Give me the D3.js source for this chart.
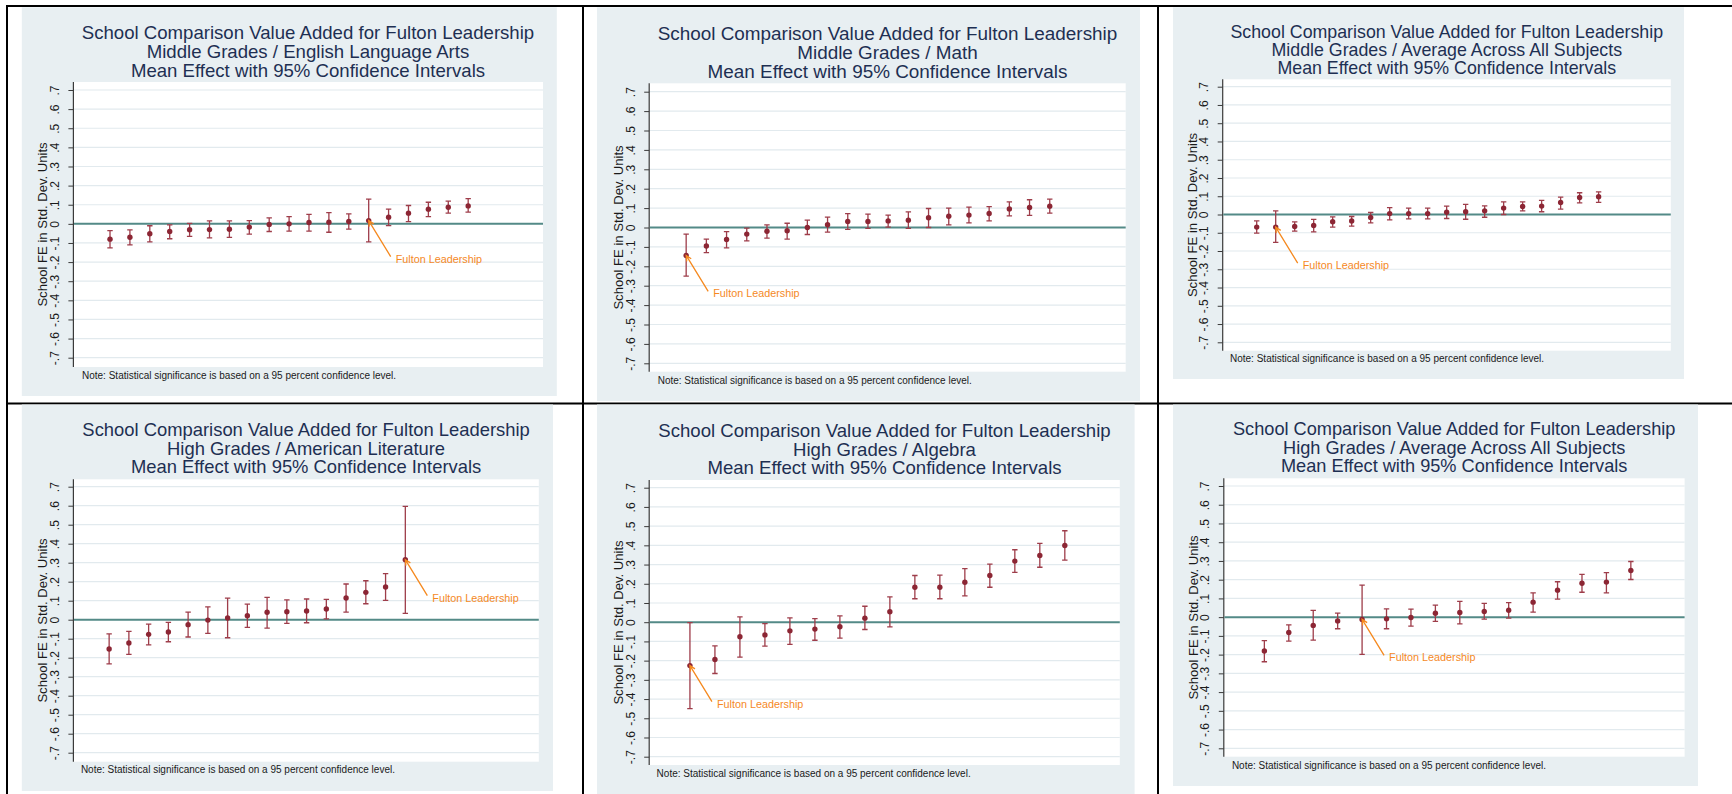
<!DOCTYPE html>
<html>
<head>
<meta charset="utf-8">
<script src="https://cdn.jsdelivr.net/npm/d3@7"></script>
<style>
html,body{margin:0;padding:0;background:#fff;}
svg{display:block;font-family:"Liberation Sans",Arial,sans-serif;}
</style>
</head>
<body>
<svg id="chart" width="1732" height="794"></svg>
<script>
// ---------------- DATA ----------------
const titleLine1 = "School Comparison Value Added for Fulton Leadership";
const titleLine3 = "Mean Effect with 95% Confidence Intervals";
const subtitles = [
  "Middle Grades / English Language Arts",
  "Middle Grades / Math",
  "Middle Grades / Average Across All Subjects",
  "High Grades / American Literature",
  "High Grades / Algebra",
  "High Grades / Average Across All Subjects"
];
const yLabel = "School FE in Std. Dev. Units";
const noteText = "Note: Statistical significance is based on a 95 percent confidence level.";
const highlightLabel = "Fulton Leadership";
const tickValues = [0.7,0.6,0.5,0.4,0.3,0.2,0.1,0,-0.1,-0.2,-0.3,-0.4,-0.5,-0.6,-0.7];
const tickLabels = [".7",".6",".5",".4",".3",".2",".1","0","-.1","-.2","-.3","-.4","-.5","-.6","-.7"];

// Middle Grades / ELA
const midElaEst = [-0.080,-0.070,-0.052,-0.040,-0.031,-0.030,-0.028,-0.017,-0.003,0.000,0.007,0.009,0.012,0.017,0.035,0.056,0.077,0.087,0.094];
const midElaLo  = [-0.126,-0.110,-0.094,-0.078,-0.065,-0.073,-0.071,-0.054,-0.040,-0.038,-0.038,-0.044,-0.028,-0.094,-0.009,0.012,0.038,0.056,0.061];
const midElaHi  = [-0.035,-0.031,-0.010,-0.005,0.003,0.016,0.016,0.017,0.031,0.038,0.050,0.059,0.052,0.129,0.077,0.096,0.113,0.119,0.132];
const midElaFulton = 13;

// Middle Grades / Math
const midMathEst = [-0.144,-0.095,-0.062,-0.034,-0.019,-0.017,0.000,0.014,0.031,0.031,0.034,0.038,0.050,0.058,0.064,0.072,0.096,0.103,0.110];
const midMathLo  = [-0.251,-0.129,-0.105,-0.069,-0.055,-0.060,-0.036,-0.024,-0.010,-0.005,0.002,-0.005,0.000,0.014,0.024,0.034,0.060,0.062,0.074];
const midMathHi  = [-0.034,-0.060,-0.021,-0.003,0.014,0.022,0.038,0.053,0.072,0.069,0.064,0.081,0.098,0.100,0.105,0.108,0.132,0.143,0.146];
const midMathFulton = 0;

// Middle Grades / Average
const midAvgEst = [-0.069,-0.069,-0.066,-0.060,-0.040,-0.036,-0.016,0.005,0.005,0.005,0.013,0.015,0.020,0.035,0.044,0.046,0.066,0.093,0.097];
const midAvgLo  = [-0.102,-0.153,-0.091,-0.095,-0.069,-0.064,-0.046,-0.029,-0.024,-0.024,-0.022,-0.026,-0.015,0.000,0.020,0.015,0.029,0.064,0.066];
const midAvgHi  = [-0.035,0.020,-0.040,-0.027,-0.013,-0.011,0.011,0.038,0.035,0.035,0.046,0.055,0.047,0.069,0.069,0.077,0.095,0.119,0.124];
const midAvgFulton = 1;

// High Grades / American Literature
const hiLitEst = [-0.154,-0.123,-0.077,-0.065,-0.026,-0.002,0.009,0.021,0.039,0.042,0.046,0.056,0.114,0.144,0.172,0.316];
const hiLitLo  = [-0.233,-0.182,-0.132,-0.116,-0.091,-0.072,-0.095,-0.040,-0.044,-0.019,-0.016,0.004,0.040,0.084,0.102,0.033];
const hiLitHi  = [-0.075,-0.061,-0.023,-0.014,0.040,0.068,0.114,0.082,0.118,0.104,0.109,0.107,0.188,0.205,0.242,0.596];
const hiLitFulton = 15;

// High Grades / Algebra
const hiAlgEst = [-0.226,-0.194,-0.076,-0.066,-0.045,-0.036,-0.024,0.021,0.054,0.182,0.182,0.208,0.243,0.318,0.347,0.399];
const hiAlgLo  = [-0.450,-0.267,-0.182,-0.125,-0.115,-0.094,-0.083,-0.038,-0.024,0.122,0.122,0.137,0.182,0.259,0.286,0.323];
const hiAlgHi  = [-0.002,-0.123,0.028,-0.007,0.023,0.019,0.033,0.083,0.132,0.243,0.245,0.279,0.302,0.377,0.410,0.476];
const hiAlgFulton = 0;

// High Grades / Average
const hiAvgEst = [-0.181,-0.082,-0.044,-0.020,-0.012,-0.009,-0.002,0.021,0.025,0.030,0.037,0.080,0.144,0.181,0.187,0.249];
const hiAvgLo  = [-0.238,-0.128,-0.123,-0.062,-0.199,-0.062,-0.048,-0.023,-0.036,-0.011,-0.005,0.027,0.096,0.133,0.130,0.201];
const hiAvgHi  = [-0.125,-0.041,0.036,0.021,0.171,0.044,0.043,0.064,0.084,0.073,0.078,0.130,0.189,0.228,0.238,0.297];
const hiAvgFulton = 4;

// ---------------- LAYOUT ----------------
const panels = [
  {est:midElaEst, lo:midElaLo, hi:midElaHi, f:midElaFulton, sub:subtitles[0],
   bg:[21.8,7.3,556.8,396], px:[73.4,543], py:[82,367], ty:[90,357.7], xdom:[-0.84,22.76],
   tcx:308, tl:[32.3,51.7,70], tfs:18.6, note:[82,375]},
  {est:midMathEst, lo:midMathLo, hi:midMathHi, f:midMathFulton, sub:subtitles[1],
   bg:[597,7.3,1140,401], px:[649.2,1125.7], py:[83.3,371.7], ty:[91.7,363.3], xdom:[-0.83,22.76],
   tcx:887.5, tl:[33.3,52.3,71], tfs:18.9, note:[657.7,380]},
  {est:midAvgEst, lo:midAvgLo, hi:midAvgHi, f:midAvgFulton, sub:subtitles[2],
   bg:[1173,7.3,1684,379], px:[1222.7,1670.8], py:[79.3,350.7], ty:[86.7,342.3], xdom:[-0.79,22.8],
   tcx:1446.8, tl:[31.7,49.7,67.7], tfs:17.8, note:[1230,358.7]},
  {est:hiLitEst, lo:hiLitLo, hi:hiLitHi, f:hiLitFulton, sub:subtitles[3],
   bg:[21.8,404.5,553,791], px:[73.4,538.8], py:[479.3,761.7], ty:[486.7,752.7], xdom:[-0.81,22.76],
   tcx:306.1, tl:[429.3,448.3,466.7], tfs:18.4, note:[80.9,769.3]},
  {est:hiAlgEst, lo:hiAlgLo, hi:hiAlgHi, f:hiAlgFulton, sub:subtitles[4],
   bg:[597,404.5,1134.6,794], px:[649.2,1119.8], py:[480,765], ty:[487.7,756.7], xdom:[-0.63,18.2],
   tcx:884.5, tl:[430,449,467.7], tfs:18.6, note:[656.6,773.3]},
  {est:hiAvgEst, lo:hiAvgLo, hi:hiAvgHi, f:hiAvgFulton, sub:subtitles[5],
   bg:[1173,404.5,1698,786], px:[1223.8,1684.6], py:[478.3,756.7], ty:[486,748.3], xdom:[-0.66,18.2],
   tcx:1454.2, tl:[429,447.7,466], tfs:18.2, note:[1231.9,765]}
];

const svg = d3.select("#chart");

// table grid lines
const border = svg.append("g").attr("stroke","#000").attr("stroke-width",2);
border.append("line").attr("x1",6).attr("x2",1732).attr("y1",6).attr("y2",6);
border.append("line").attr("x1",6).attr("x2",1732).attr("y1",403.5).attr("y2",403.5);
border.append("line").attr("x1",7).attr("x2",7).attr("y1",5).attr("y2",794);
border.append("line").attr("x1",583).attr("x2",583).attr("y1",5).attr("y2",794);
border.append("line").attr("x1",1158).attr("x2",1158).attr("y1",5).attr("y2",794);

const C = {
  bg:"#e8eff2", grid:"#e2eaee", zero:"#538a87", axis:"#3a3a3a",
  title:"#1e2f52", text:"#1a1a1a", dot:"#8c2634", bar:"#9e3d4a", orange:"#f5891f"
};

panels.forEach(p => {
  const g = svg.append("g");
  g.append("rect").attr("x",p.bg[0]).attr("y",p.bg[1])
    .attr("width",p.bg[2]-p.bg[0]).attr("height",p.bg[3]-p.bg[1]).attr("fill",C.bg);
  g.append("rect").attr("x",p.px[0]).attr("y",p.py[0])
    .attr("width",p.px[1]-p.px[0]).attr("height",p.py[1]-p.py[0]).attr("fill","#fff");

  const x = d3.scaleLinear().domain(p.xdom).range(p.px);
  const y = d3.scaleLinear().domain([-0.7,0.7]).range([p.ty[1],p.ty[0]]);

  // gridlines
  g.append("g").selectAll("line").data(tickValues.filter(v=>v!==0)).join("line")
    .attr("x1",p.px[0]).attr("x2",p.px[1])
    .attr("y1",d=>y(d)).attr("y2",d=>y(d))
    .attr("stroke",C.grid).attr("stroke-width",1.2);

  // y axis
  const axis = d3.axisLeft(y).tickValues(tickValues)
    .tickFormat((d,i)=>tickLabels[i]).tickSize(5).tickPadding(0);
  const ag = g.append("g").attr("transform",`translate(${p.px[0]},0)`).call(axis);
  ag.select(".domain").remove();
  ag.selectAll(".tick line").attr("stroke",C.axis).attr("stroke-width",1);
  ag.selectAll(".tick text")
    .attr("x",null).attr("dy",null)
    .attr("transform","translate(-14.5,0) rotate(-90)")
    .attr("text-anchor","middle").attr("dominant-baseline","auto")
    .attr("y",0)
    .attr("font-size",12).attr("fill",C.text)
    .attr("font-family","'Liberation Sans',Arial,sans-serif");
  g.append("line").attr("x1",p.px[0]).attr("x2",p.px[0])
    .attr("y1",p.py[0]).attr("y2",p.py[1]).attr("stroke",C.axis).attr("stroke-width",1.2);

  // zero line
  g.append("line").attr("x1",p.px[0]+0.6).attr("x2",p.px[1])
    .attr("y1",y(0)).attr("y2",y(0)).attr("stroke",C.zero).attr("stroke-width",2);

  // y label
  g.append("text").attr("transform",`translate(${p.px[0]-30.5},${(p.py[0]+p.py[1])/2}) rotate(-90)`)
    .attr("text-anchor","middle").attr("dominant-baseline","central")
    .attr("font-size",13.1).attr("fill",C.text).text(yLabel);

  // title
  [titleLine1,p.sub,titleLine3].forEach((t,i)=>{
    g.append("text").attr("x",p.tcx).attr("y",p.tl[i])
      .attr("text-anchor","middle").attr("dominant-baseline","central")
      .attr("font-size",p.tfs).attr("fill",C.title).text(t);
  });

  // note
  g.append("text").attr("x",p.note[0]).attr("y",p.note[1])
    .attr("dominant-baseline","central").attr("font-size",10).attr("fill",C.text).text(noteText);

  // error bars
  const idx = d3.range(p.est.length);
  const cap = 2.7;
  const eb = g.append("g").attr("stroke",C.bar).attr("stroke-width",1.3).attr("fill","none");
  eb.selectAll("path").data(idx).join("path")
    .attr("d", i => {
      const xi = x(i+1), yl = y(p.lo[i]), yh = y(p.hi[i]);
      return `M${xi-cap},${yh}H${xi+cap}M${xi},${yh}V${yl}M${xi-cap},${yl}H${xi+cap}`;
    });
  g.append("g").selectAll("circle").data(idx).join("circle")
    .attr("cx",i=>x(i+1)).attr("cy",i=>y(p.est[i])).attr("r",2.7).attr("fill",C.dot);

  // highlight label + arrow
  const fx = x(p.f+1), fy = y(p.est[p.f]);
  const lx = fx + 27, ly = fy + 38;
  g.append("text").attr("x",lx).attr("y",ly).attr("dominant-baseline","central")
    .attr("font-size",10.8).attr("fill",C.orange).text(highlightLabel);
  const sx = lx - 5, sy = ly - 2;
  const ang = Math.atan2(fy - sy, fx - sx);
  const ah = 6, spread = 0.45;
  const a1 = [fx - ah*Math.cos(ang-spread), fy - ah*Math.sin(ang-spread)];
  const a2 = [fx - ah*Math.cos(ang+spread), fy - ah*Math.sin(ang+spread)];
  g.append("path")
    .attr("d",`M${sx},${sy}L${fx},${fy}M${a1[0]},${a1[1]}L${fx},${fy}L${a2[0]},${a2[1]}`)
    .attr("stroke",C.orange).attr("stroke-width",1.3).attr("fill","none");
});
</script>
</body>
</html>
